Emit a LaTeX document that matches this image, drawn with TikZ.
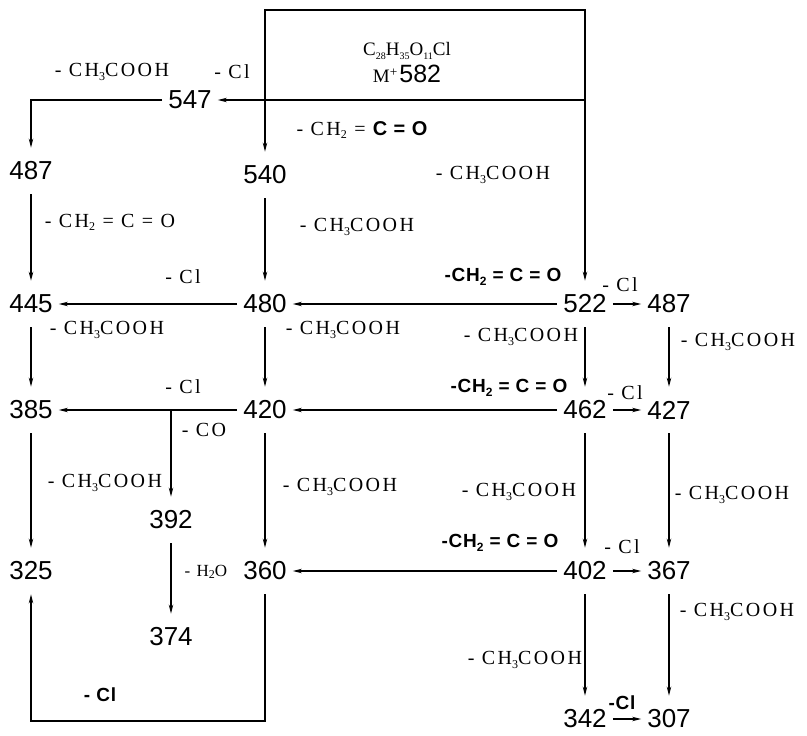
\documentclass[tikz,border=0pt]{standalone}
\usepackage{fontspec}
\setmainfont{Liberation Serif}
\newfontfamily\numfont{Liberation Sans}
\newfontfamily\labfont[LetterSpace=12]{Liberation Serif}
\newfontfamily\blabfont[LetterSpace=4]{Liberation Sans}
\usetikzlibrary{arrows.meta}
\newcommand\lsub[1]{\raisebox{-0.35ex}{\fontsize{12}{12}\selectfont #1}}
\newcommand\fsub[1]{\raisebox{-0.4ex}{\fontsize{10}{10}\selectfont #1}}
\begin{document}
\begin{tikzpicture}[x=1pt,y=-1pt,
  num/.style={font=\numfont\fontsize{26}{26}\selectfont, inner xsep=6pt, inner ysep=14pt},
  lab/.style={font=\labfont\fontsize{20}{22}\selectfont, inner sep=0pt},
  blab/.style={font=\blabfont\bfseries\fontsize{19}{22}\selectfont, inner sep=0pt},
  arr/.style={-{Stealth[length=9pt,width=4.5pt]}, line width=1.1pt},
  ln/.style={line width=1.1pt}]
\useasboundingbox (0,0) rectangle (807,736);

% parent box
\draw[ln] (265,10) rectangle (585,100);
\node[inner sep=0pt, font=\fontsize{19}{19}\selectfont] (formula) at (407,51)
  {C\fsub{28}H\fsub{35}O\fsub{11}Cl};
\node[inner sep=0pt] (mion) at (407,74)
  {{\fontsize{19}{19}\selectfont M\textsuperscript{+}}\,{\numfont\fontsize{25}{25}\selectfont 582}};
\coordinate (boxbl) at (265,100);
\coordinate (boxbr) at (585,100);

% ions
\node[num] (n547) at (190,100) {547};
\node[num] (a487) at (31,171) {487};
\node[num] (n540) at (265,175) {540};
\node[num] (n445) at (31,304) {445};
\node[num] (n480) at (265,304) {480};
\node[num] (n522) at (585,304) {522};
\node[num] (d487) at (669,304) {487};
\node[num] (n385) at (31,410) {385};
\node[num] (n420) at (265,410) {420};
\node[num] (n462) at (585,410) {462};
\node[num] (n427) at (669,410) {427};
\node[num] (n392) at (171,520) {392};
\node[num] (n325) at (31,571) {325};
\node[num] (n360) at (265,571) {360};
\node[num] (n402) at (585,571) {402};
\node[num] (n367) at (669,571) {367};
\node[num] (n374) at (171,637) {374};
\node[num] (n342) at (585,719) {342};
\node[num] (n307) at (669,719) {307};

\coordinate (c547l) at (31,100);
\coordinate (cco) at (171,410);
\coordinate (lp1) at (265,721);
\coordinate (lp2) at (31,721);

% connectors
\draw[arr] (boxbr) -- (n547.east);
\draw[arr] (n547.west) -- (c547l) -- (a487.north);
\draw[arr] (boxbl) -- (n540.north);
\draw[arr] (boxbr) -- (n522.north);
\draw[arr] (a487.south) -- (n445.north);
\draw[arr] (n540.south) -- (n480.north);
\draw[arr] (n480.west) -- (n445.east);
\draw[arr] (n522.west) -- (n480.east);
\draw[arr] (n522.east) -- (d487.west);
\draw[arr] (n445.south) -- (n385.north);
\draw[arr] (n480.south) -- (n420.north);
\draw[arr] (n522.south) -- (n462.north);
\draw[arr] (d487.south) -- (n427.north);
\draw[arr] (n420.west) -- (n385.east);
\draw[arr] (n462.west) -- (n420.east);
\draw[arr] (n462.east) -- (n427.west);
\draw[arr] (cco) -- (n392.north);
\draw[arr] (n385.south) -- (n325.north);
\draw[arr] (n420.south) -- (n360.north);
\draw[arr] (n462.south) -- (n402.north);
\draw[arr] (n427.south) -- (n367.north);
\draw[arr] (n392.south) -- (n374.north);
\draw[arr] (n402.west) -- (n360.east);
\draw[arr] (n402.east) -- (n367.west);
\draw[arr] (n360.south) -- (lp1) -- (lp2) -- (n325.south);
\draw[arr] (n402.south) -- (n342.north);
\draw[arr] (n367.south) -- (n307.north);
\draw[arr] (n342.east) -- (n307.west);

% labels
\node[lab] (l1) at (112,72) {- CH\lsub{3}COOH};
\node[lab] (l2) at (232,72) {- Cl};
\node[lab] (l3) at (362,130) {- CH\lsub{2} = {\blabfont\bfseries C = O}};
\node[lab] (l4) at (493,175) {- CH\lsub{3}COOH};
\node[lab] (l5) at (110,222) {- CH\lsub{2} = C = O};
\node[lab] (l6) at (357,227) {- CH\lsub{3}COOH};
\node[lab] (l7) at (183,277) {- Cl};
\node[blab] (l8) at (503,277) {-CH\lsub{2} = C = O};
\node[lab] (l9) at (620,285) {- Cl};
\node[lab] (l10) at (107,330) {- CH\lsub{3}COOH};
\node[lab] (l11) at (343,330) {- CH\lsub{3}COOH};
\node[lab] (l12) at (521,337) {- CH\lsub{3}COOH};
\node[lab] (l13) at (738,342) {- CH\lsub{3}COOH};
\node[lab] (l14) at (183,387) {- Cl};
\node[blab] (l15) at (509,388) {-CH\lsub{2} = C = O};
\node[lab] (l16) at (625,393) {- Cl};
\node[lab] (l17) at (204,430) {- CO};
\node[lab] (l18) at (105,483) {- CH\lsub{3}COOH};
\node[lab] (l19) at (340,487) {- CH\lsub{3}COOH};
\node[lab] (l20) at (519,492) {- CH\lsub{3}COOH};
\node[lab] (l21) at (732,495) {- CH\lsub{3}COOH};
\node[blab] (l22) at (500,543) {-CH\lsub{2} = C = O};
\node[lab] (l23) at (622,547) {- Cl};
\node[lab, font=\labfont\fontsize{17}{18}\selectfont] (l24) at (206,572) {- H\lsub{2}O};
\node[lab] (l25) at (737,612) {- CH\lsub{3}COOH};
\node[lab] (l26) at (525,660) {- CH\lsub{3}COOH};
\node[blab] (l27) at (622,703) {-Cl};
\node[blab] (l28) at (100,695) {- Cl};
\end{tikzpicture}
\end{document}
